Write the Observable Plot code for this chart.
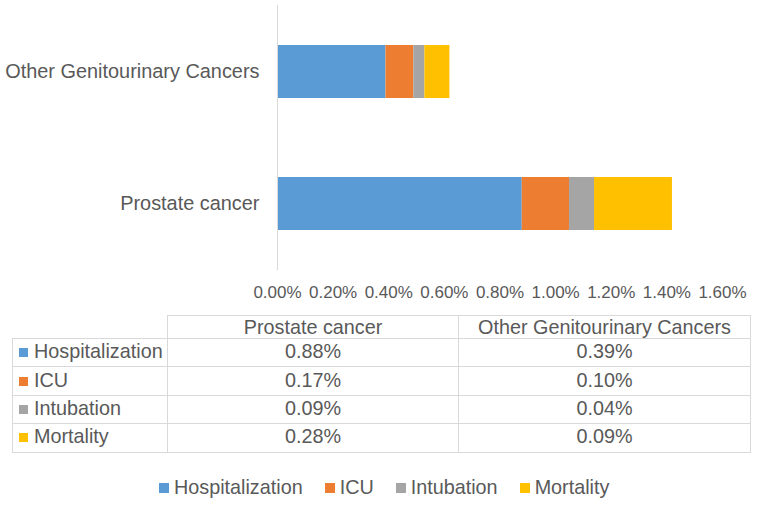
<!DOCTYPE html>
<html>
<head>
<meta charset="utf-8">
<script src="https://cdn.jsdelivr.net/npm/d3@7"></script>
<script src="https://cdn.jsdelivr.net/npm/@observablehq/plot@0.6"></script>
<style>
  html, body { margin: 0; padding: 0; background: #fff; }
  #wrap { position: relative; width: 758px; height: 505px; font-family: "Liberation Sans", Arial, sans-serif; color: #595959; }
  #chart { position: absolute; left: 0; top: 0; }
  table { position: absolute; left: 12px; top: 315px; border-collapse: collapse; font-size: 19.8px; color: #595959; table-layout: fixed; }
  td { border: 1px solid #d9d9d9; padding: 0; text-align: center; white-space: nowrap; box-sizing: border-box; }
  tr.head td { height: 23px; line-height: 20px; }
  tr.body td { height: 28.4px; line-height: 20px; padding-bottom: 3px; }
  td.blank { border-top: none; border-left: none; }
  td.lab { text-align: left; padding-left: 6px; }
  .key { display: inline-block; width: 9px; height: 9px; margin-right: 6px; vertical-align: 1px; }
  #legend { position: absolute; left: 159px; top: 476px; display: flex; align-items: center; font-size: 19.8px; color: #595959; white-space: nowrap; }
  #legend .item { display: flex; align-items: center; margin-right: 22px; }
  #legend .sw { width: 10px; height: 10px; margin-right: 5px; }
</style>
</head>
<body>
<div id="wrap">
  <div id="chart"></div>
  <div id="tbl"></div>
  <div id="legend"></div>
</div>
<script>
const categories = ["Other Genitourinary Cancers", "Prostate cancer"];
const measures = ["Hospitalization", "ICU", "Intubation", "Mortality"];
const prostateValues = [0.88, 0.17, 0.09, 0.28];
const otherGUValues = [0.39, 0.10, 0.04, 0.09];
const colors = ["#5b9bd5", "#ed7d31", "#a5a5a5", "#ffc000"];
const xTicks = [0, 0.2, 0.4, 0.6, 0.8, 1.0, 1.2, 1.4, 1.6];
const tableColumns = ["Prostate cancer", "Other Genitourinary Cancers"];

const valuesByCategory = {
  "Prostate cancer": prostateValues,
  "Other Genitourinary Cancers": otherGUValues
};
const rows = [];
measures.forEach((m, i) => {
  categories.forEach(c => rows.push({category: c, measure: m, value: valuesByCategory[c][i]}));
});

const chart = Plot.plot({
  width: 758,
  height: 310,
  marginLeft: 277,
  marginRight: 36,
  marginTop: 5,
  marginBottom: 40,
  style: {fontFamily: '"Liberation Sans", Arial, sans-serif', color: "#595959", background: "transparent"},
  x: {domain: [0, 1.6], ticks: xTicks},
  y: {domain: categories, paddingInner: 0.6, paddingOuter: 0.3},
  color: {domain: measures, range: colors},
  marks: [
    Plot.barX(rows, Plot.stackX({x: "value", y: "category", fill: "measure", order: measures, inset: 0})),
    Plot.ruleX([0], {stroke: "#d9d9d9", strokeWidth: 1}),
    Plot.axisX({ticks: xTicks, tickSize: 0, tickPadding: 15, tickFormat: d => d.toFixed(2) + "%", fontSize: 17, fill: "#595959", label: null}),
    Plot.axisY({tickSize: 0, tickPadding: 18, fontSize: 19.9, fill: "#595959", label: null})
  ]
});
document.getElementById("chart").appendChild(chart);

// data table
const table = document.createElement("table");
const colgroup = document.createElement("colgroup");
[155, 291, 292].forEach(w => { const col = document.createElement("col"); col.style.width = w + "px"; colgroup.appendChild(col); });
table.appendChild(colgroup);
const head = document.createElement("tr");
head.className = "head";
const blank = document.createElement("td"); blank.className = "blank"; head.appendChild(blank);
tableColumns.forEach(c => { const td = document.createElement("td"); td.textContent = c; head.appendChild(td); });
table.appendChild(head);
measures.forEach((m, i) => {
  const tr = document.createElement("tr");
  tr.className = "body";
  const lab = document.createElement("td"); lab.className = "lab";
  const key = document.createElement("span"); key.className = "key"; key.style.background = colors[i];
  lab.appendChild(key); lab.appendChild(document.createTextNode(m));
  tr.appendChild(lab);
  tableColumns.forEach(c => {
    const td = document.createElement("td");
    td.textContent = valuesByCategory[c][i].toFixed(2) + "%";
    tr.appendChild(td);
  });
  table.appendChild(tr);
});
document.getElementById("tbl").appendChild(table);

// legend
const legend = document.getElementById("legend");
measures.forEach((m, i) => {
  const item = document.createElement("div"); item.className = "item";
  const sw = document.createElement("div"); sw.className = "sw"; sw.style.background = colors[i];
  const t = document.createElement("span"); t.textContent = m;
  item.appendChild(sw); item.appendChild(t);
  legend.appendChild(item);
});
</script>
</body>
</html>
